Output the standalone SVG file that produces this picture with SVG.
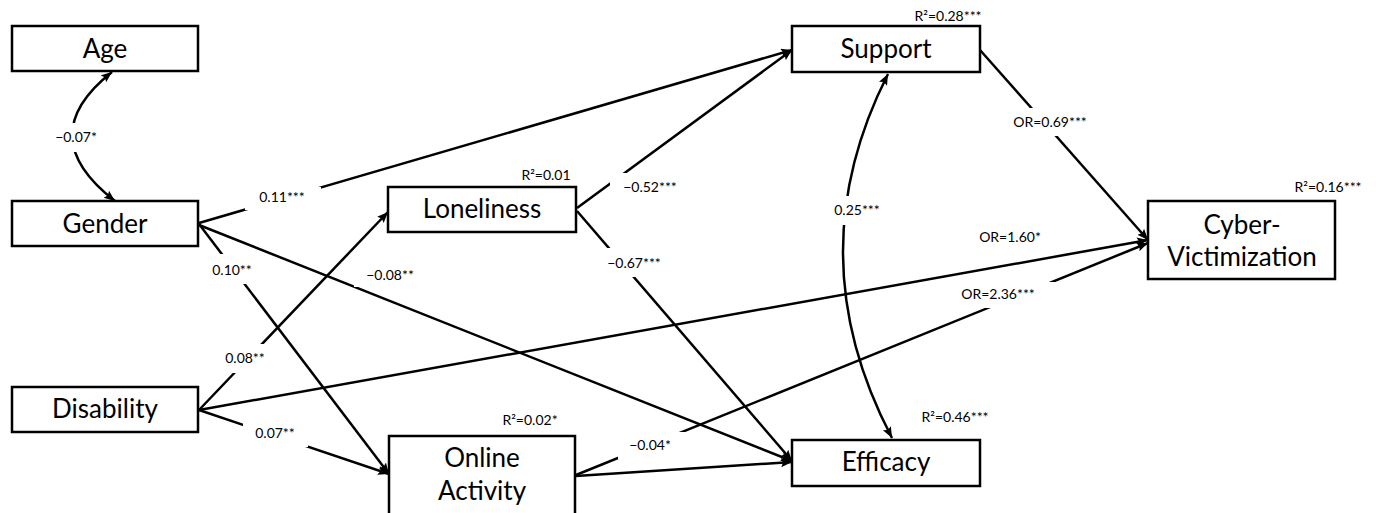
<svg xmlns="http://www.w3.org/2000/svg" width="1376" height="513" viewBox="0 0 1376 513">
<style>
.box{fill:#fff;stroke:#000;stroke-width:2.5}
.nl{font-family:Lato,"Liberation Sans",sans-serif;font-size:26px;text-anchor:middle;fill:#000}
.el{font-family:Lato,"Liberation Sans",sans-serif;font-size:14px;text-anchor:middle;fill:#000}
.bg{fill:#fff;stroke:none}
.ln{fill:none;stroke:#000;stroke-width:2.5;marker-end:url(#ah)}
.cv{fill:none;stroke:#000;stroke-width:2.5;marker-end:url(#ah);marker-start:url(#ah)}
</style>
<defs>
<marker id="ah" markerUnits="userSpaceOnUse" markerWidth="12" markerHeight="10" refX="11" refY="4.5" orient="auto-start-reverse" viewBox="0 0 12 10">
<path d="M0,0 L11,4.5 L0,9 L2,4.5 z" fill="#000"/>
</marker>
</defs>
<rect width="1376" height="513" fill="#fff"/>
<g id="connectors">
<path class="cv" d="M112,72 Q31,136 115,201"/>
<path class="ln" d="M199,223 L792,50"/>
<path class="ln" d="M577,208 L792,50"/>
<path class="ln" d="M577,211 L792,461"/>
<path class="ln" d="M199,225 L792,461"/>
<path class="ln" d="M199,224 L389,474"/>
<path class="ln" d="M199,410 L388,212"/>
<path class="ln" d="M199,410 L1148,240"/>
<path class="ln" d="M199,410 L389,474"/>
<path class="ln" d="M576,475 L1148,243"/>
<path class="ln" d="M576,476 L792,462"/>
<path class="ln" d="M980,50 L1148,240"/>
<path class="cv" d="M888,74 Q796,255 892,438"/>
</g>
<g id="edge-labels">
<rect class="bg" x="50" y="123" width="50" height="29"/><text class="el" x="76" y="142">−0.07*</text>
<rect class="bg" x="245" y="187" width="76" height="23"/><text class="el" x="282" y="202">0.11***</text>
<rect class="bg" x="610" y="173" width="78" height="27"/><text class="el" x="650" y="192">−0.52***</text>
<rect class="bg" x="600" y="248" width="68" height="29"/><text class="el" x="634" y="268">−0.67***</text>
<rect class="bg" x="205" y="254" width="55" height="30"/><text class="el" x="232" y="275">0.10**</text>
<rect class="bg" x="354" y="262" width="70" height="25"/><text class="el" x="390" y="280">−0.08**</text>
<rect class="bg" x="220" y="344" width="50" height="29"/><text class="el" x="245" y="363">0.08**</text>
<rect class="bg" x="243" y="421" width="65" height="26"/><text class="el" x="275" y="438">0.07**</text>
<rect class="bg" x="618" y="432" width="69" height="27"/><text class="el" x="650" y="450">−0.04*</text>
<text class="el" x="1010" y="242">OR=1.60*</text>
<rect class="bg" x="955" y="282" width="100" height="26"/><text class="el" x="998" y="299">OR=2.36***</text>
<rect class="bg" x="1010" y="108" width="80" height="28"/><text class="el" x="1050" y="127">OR=0.69***</text>
<rect class="bg" x="830" y="196" width="55" height="29"/><text class="el" x="857" y="215">0.25***</text>
<text class="el" x="546" y="180">R²=0.01</text>
<text class="el" x="948" y="21">R²=0.28***</text>
<text class="el" x="1328" y="192">R²=0.16***</text>
<text class="el" x="530" y="425">R²=0.02*</text>
<text class="el" x="955" y="422">R²=0.46***</text>
</g>
<g id="age"><rect class="box" x="12" y="26" width="186" height="45"/><text class="nl" x="105" y="58">Age</text></g>
<g id="gender"><rect class="box" x="12" y="201" width="186" height="45"/><text class="nl" x="105" y="233">Gender</text></g>
<g id="disability"><rect class="box" x="12" y="387" width="186" height="45"/><text class="nl" x="105" y="418">Disability</text></g>
<g id="loneliness"><rect class="box" x="388" y="187" width="188" height="45"/><text class="nl" x="482" y="218">Loneliness</text></g>
<g id="online-activity"><rect class="box" x="389" y="436" width="186" height="90"/><text class="nl" x="482" y="467">Online</text><text class="nl" x="482" y="500">Activity</text></g>
<g id="support"><rect class="box" x="792" y="26" width="188" height="46"/><text class="nl" x="886" y="58">Support</text></g>
<g id="efficacy"><rect class="box" x="792" y="440" width="188" height="46"/><text class="nl" x="886" y="471">Efficacy</text></g>
<g id="cyber-victimization"><rect class="box" x="1148" y="201" width="187" height="78"/><text class="nl" x="1242" y="234">Cyber-</text><text class="nl" x="1242" y="266">Victimization</text></g>
</svg>
